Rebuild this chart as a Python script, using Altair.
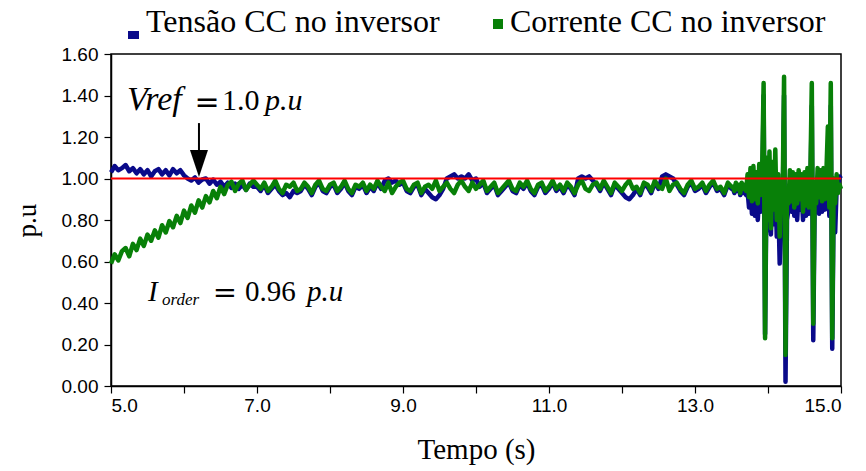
import altair as alt
import numpy as np
import pandas as pd

# Sample instants: start-up, steady operation, disturbance window
t_startup = np.round(np.arange(5.0, 6.951, 0.05), 2)
t_steady = np.round(np.arange(7.0, 13.501, 0.05), 2)
t_fault = np.round(np.arange(13.52, 15.001, 0.02), 2)

# DC voltage at the inverter (p.u)
v_startup = [1.03, 1.06, 1.04, 1.05, 1.065, 1.035, 1.05, 1.025, 1.045, 1.02,
             1.04, 1.01, 1.035, 1.045, 1.02, 1.04, 1.015, 1.045, 1.025, 1.04,
             1.015, 1.00, 0.99, 1.005, 0.98, 0.995, 1.0, 0.975, 0.995, 0.97,
             0.985, 0.96, 0.98, 0.955, 0.975, 0.95, 0.97, 0.945, 0.975, 0.96]
v_steady = [0.96, 0.94, 0.97, 0.93, 0.95, 0.97, 0.94, 0.92, 0.93, 0.91,
            0.94, 0.93, 0.94, 0.97, 0.95, 0.92, 0.96, 0.98, 0.94, 0.93,
            0.96, 0.97, 0.93, 0.95, 0.98, 0.94, 0.92, 0.96, 0.95, 0.97,
            0.93, 0.96, 0.94, 0.98, 0.95, 0.99, 1.00, 0.98, 0.99, 0.97,
            0.98, 0.94, 0.93, 0.96, 0.97, 0.92, 0.95, 0.93, 0.91, 0.90,
            0.92, 0.95, 1.00, 1.01, 1.02, 1.00, 1.01, 1.00, 1.02, 0.99,
            1.00, 0.96, 0.98, 0.93, 0.95, 0.97, 0.92, 0.94, 0.96, 0.98,
            0.94, 0.93, 0.97, 0.95, 0.98, 0.94, 0.92, 0.96, 0.97, 0.93,
            0.95, 0.98, 0.94, 0.96, 0.93, 0.97, 0.95, 0.92, 1.00, 1.01,
            1.00, 1.01, 0.99, 0.97, 0.94, 0.98, 0.95, 0.92, 0.97, 0.95,
            0.93, 0.91, 0.90, 0.92, 0.95, 0.92, 0.97, 0.96, 0.93, 0.98,
            0.95, 1.01, 1.02, 1.01, 1.00, 0.97, 0.94, 0.92, 0.96, 0.98,
            0.94, 0.95, 0.97, 0.93, 0.96, 0.98, 0.94, 0.95, 0.92, 0.97,
            0.95]
v_fault = [0.95, 0.93, 0.97, 0.94, 0.96, 0.92, 0.97, 0.93, 0.95, 0.92,
           0.94, 0.86, 0.95, 0.83, 0.92, 0.82, 0.90, 0.80, 0.93, 0.84,
           0.86, 1.40, 0.25, 0.95, 0.75, 1.00, 0.73, 0.95, 0.78, 1.00,
           0.72, 0.90, 0.59, 0.85, 0.80, 1.40, 0.02, 0.80, 0.85, 0.95,
           0.84, 0.93, 0.82, 0.92, 0.80, 0.94, 0.85, 0.92, 0.80, 0.93,
           0.82, 0.95, 0.83, 0.92, 1.35, 0.22, 0.90, 0.84, 0.95, 0.83,
           0.94, 0.84, 0.93, 0.85, 0.92, 1.10, 0.82, 1.35, 0.18, 0.90,
           0.74, 0.95, 0.97, 1.01, 1.00]

# DC current at the inverter (p.u)
i_startup = [0.59, 0.635, 0.605, 0.65, 0.665, 0.625, 0.685, 0.655, 0.71, 0.675,
             0.73, 0.70, 0.75, 0.715, 0.775, 0.74, 0.795, 0.765, 0.82, 0.785,
             0.845, 0.81, 0.87, 0.835, 0.895, 0.86, 0.915, 0.885, 0.94, 0.905,
             0.96, 0.925, 0.97, 0.985, 0.94, 0.975, 0.99, 0.945, 0.97, 0.99]
i_steady = [0.97, 0.95, 0.98, 0.94, 0.96, 0.99, 0.95, 0.93, 0.97, 0.96,
            0.98, 0.94, 0.95, 0.98, 0.96, 0.93, 0.97, 0.99, 0.95, 0.94,
            0.97, 0.98, 0.94, 0.96, 0.99, 0.95, 0.93, 0.97, 0.96, 0.98,
            0.94, 0.97, 0.95, 0.99, 0.96, 0.94, 0.98, 0.93, 0.96, 0.98,
            0.99, 0.95, 0.94, 0.97, 0.98, 0.93, 0.96, 0.97, 0.95, 0.99,
            0.94, 0.96, 0.98, 0.95, 0.93, 0.97, 0.99, 0.96, 0.94, 0.98,
            0.95, 0.97, 0.99, 0.94, 0.96, 0.98, 0.93, 0.95, 0.97, 0.99,
            0.95, 0.94, 0.98, 0.96, 0.99, 0.95, 0.93, 0.97, 0.98, 0.94,
            0.96, 0.99, 0.95, 0.97, 0.94, 0.98, 0.96, 0.93, 0.97, 0.99,
            0.95, 0.94, 0.97, 0.98, 0.95, 0.99, 0.96, 0.93, 0.98, 0.96,
            0.94, 0.97, 0.99, 0.95, 0.96, 0.93, 0.98, 0.97, 0.94, 0.99,
            0.96, 0.95, 1.00, 0.94, 0.97, 0.98, 0.95, 0.93, 0.97, 0.99,
            0.95, 0.96, 0.98, 0.94, 0.97, 0.99, 0.95, 0.96, 0.93, 0.98,
            0.96]
i_fault = [0.96, 0.94, 0.98, 0.95, 0.97, 0.93, 0.98, 0.95, 0.97, 0.94,
           1.02, 0.91, 1.05, 0.89, 1.06, 0.90, 1.03, 0.88, 1.07, 0.92,
           1.04, 1.46, 0.23, 1.10, 0.80, 1.13, 0.76, 1.08, 0.85, 1.14,
           0.80, 1.02, 0.72, 0.99, 0.90, 1.49, 0.15, 0.95, 0.88, 1.04,
           0.89, 1.03, 0.86, 1.02, 0.88, 1.04, 0.90, 1.02, 0.84, 1.03,
           0.87, 1.05, 0.86, 1.01, 1.46, 0.30, 0.98, 0.88, 1.05, 0.91,
           1.04, 0.89, 1.05, 0.90, 1.03, 1.25, 0.86, 1.46, 0.23, 1.00,
           0.88, 1.02, 0.93, 0.97, 0.95]

v_ref = 1.0
legend_labels = ["Tensão CC no inversor", "Corrente CC no inversor"]
series_colors = ["#0a0a8a", "#088008"]
x_ticks = [5, 6, 7, 8, 9, 10, 11, 12, 13, 14, 15]
y_ticks = [0.0, 0.2, 0.4, 0.6, 0.8, 1.0, 1.2, 1.4, 1.6]

time = np.concatenate([t_startup, t_steady, t_fault])
voltage = pd.DataFrame({"t": time, "v": v_startup + v_steady + v_fault})
current = pd.DataFrame({"t": time, "v": i_startup + i_steady + i_fault})

SERIF = "Liberation Serif"
SANS = "Liberation Sans"

x_scale = alt.Scale(domain=[5, 15], nice=False, zero=False)
y_scale = alt.Scale(domain=[0, 1.6], nice=False)

x_axis = alt.Axis(values=x_ticks, labelExpr="datum.value % 2 == 1 ? format(datum.value, '.1f') : ''",
                  title="Tempo (s)", grid=False, tickSize=7, labelPadding=3, titlePadding=20)
y_axis = alt.Axis(values=y_ticks, format=".2f", title="p.u", grid=False, tickSize=7,
                  labelPadding=6, titlePadding=20)

x_enc = alt.X("t:Q", scale=x_scale, axis=x_axis)
y_enc = alt.Y("v:Q", scale=y_scale, axis=y_axis)

line_v = alt.Chart(voltage).mark_line(color=series_colors[0], strokeWidth=4.5, strokeJoin="round").encode(x=x_enc, y=y_enc)
line_i = alt.Chart(current).mark_line(color=series_colors[1], strokeWidth=4.5, strokeJoin="round").encode(x=x_enc, y=y_enc)

ref_df = pd.DataFrame({"v": [v_ref]})
ref_line = alt.Chart(ref_df).mark_rule(color="#ff0000", strokeWidth=2).encode(y=alt.Y("v:Q", scale=y_scale))

# Arrow pointing at the reference voltage
arrow_x = 6.205
shaft = alt.Chart(pd.DataFrame({"t": [arrow_x], "y1": [1.267], "y2": [1.12]})).mark_rule(
    color="black", strokeWidth=2).encode(
    x=alt.X("t:Q", scale=x_scale), y=alt.Y("y1:Q", scale=y_scale), y2="y2:Q")
head = alt.Chart(pd.DataFrame({"t": [arrow_x], "v": [1.072]})).mark_point(
    shape="M-1,-1.5L1,-1.5L0,1.5Z", filled=True, color="black", opacity=1, size=324).encode(
    x=alt.X("t:Q", scale=x_scale), y=alt.Y("v:Q", scale=y_scale))


def label(text, t, v, size, style="normal", font=SERIF, align="left"):
    df = pd.DataFrame({"t": [t], "v": [v], "txt": [text]})
    return alt.Chart(df).mark_text(font=font, fontSize=size, fontStyle=style, align=align,
                                   baseline="alphabetic", color="black").encode(
        x=alt.X("t:Q", scale=x_scale), y=alt.Y("v:Q", scale=y_scale), text="txt:N")


vref_text = [
    label("Vref", 5.219, 1.330, 34, "italic"),
    label("=", 6.315, 1.320, 30, font="DejaVu Sans", align="center"),
    label("1.0", 6.521, 1.330, 30),
    label("p.u", 7.11, 1.330, 30, "italic"),
]
iorder_text = [
    label("I", 5.507, 0.41, 29, "italic"),
    label("order", 5.699, 0.39, 17, "italic"),
    label("=", 6.56, 0.405, 29, font="DejaVu Sans", align="center"),
    label("0.96", 6.836, 0.41, 29),
    label("p.u", 7.685, 0.41, 29, "italic"),
]

# Legend drawn above the plot area
one = pd.DataFrame({"k": [0]})


def swatch(x1, x2, y1, y2, color):
    return alt.Chart(one).mark_rect(color=color).encode(
        x=alt.value(x1), x2=alt.value(x2), y=alt.value(y1), y2=alt.value(y2))


def legend_text(text, x, y):
    return alt.Chart(one).mark_text(font=SERIF, fontSize=32, align="left", baseline="alphabetic",
                                    color="black", text=text).encode(x=alt.value(x), y=alt.value(y))


legend = [
    swatch(17, 28, -23, -15, series_colors[0]),
    legend_text(legend_labels[0], 35, -22),
    swatch(382, 392, -35, -25, series_colors[1]),
    legend_text(legend_labels[1], 399, -22),
]

chart = alt.layer(
    line_v, line_i, ref_line, shaft, head, *vref_text, *iorder_text, *legend
).properties(
    width=730, height=332,
    autosize=alt.AutoSizeParams(type="none"),
    padding={"left": 111, "top": 54, "right": 25, "bottom": 85},
).configure_view(
    stroke="black", strokeWidth=1.5
).configure_axis(
    domainColor="black", domainWidth=1.5, tickColor="black", tickWidth=1.2,
    labelFont=SANS, labelFontSize=19, labelColor="black",
    titleFont=SERIF, titleFontSize=29, titleFontWeight="normal", titleColor="black",
).configure_axisY(titleFontSize=27)

chart.save("out.html", embed_options={"renderer": "svg", "actions": False})
